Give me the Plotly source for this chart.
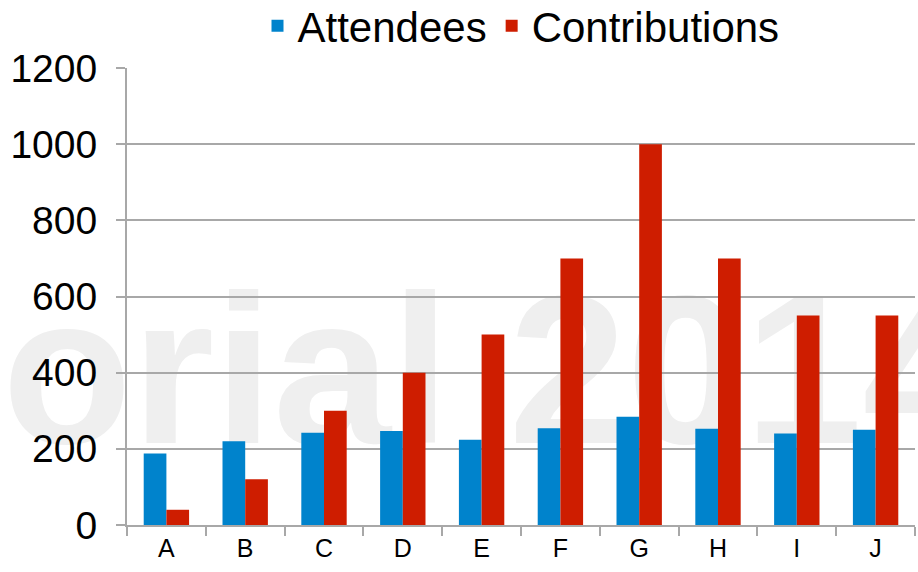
import plotly.graph_objects as go

categories = ["A", "B", "C", "D", "E", "F", "G", "H", "I", "J"]
attendees = [188, 220, 242, 247, 224, 254, 284, 253, 240, 250]
contributions = [40, 120, 300, 400, 500, 700, 1000, 700, 550, 550]
y_ticks = [0, 200, 400, 600, 800, 1000, 1200]

FONT = "Liberation Sans, Arial, sans-serif"
BLUE = "#0083CC"
RED = "#CE1D00"
GRID = "#A8A8A8"

fig = go.Figure()
fig.add_trace(go.Bar(name="Attendees", x=categories, y=attendees,
                     marker=dict(color=BLUE, line=dict(width=0))))
fig.add_trace(go.Bar(name="Contributions", x=categories, y=contributions,
                     marker=dict(color=RED, line=dict(width=0))))

fig.add_shape(type="rect", xref="paper", yref="paper",
              x0=-0.166, x1=1.3, y0=0.309, y1=0.459,
              line=dict(width=0), fillcolor="rgba(0,0,0,0)", layer="below",
              label=dict(text="orial 2014", textposition="middle left",
                         font=dict(family=FONT, size=212, color="#EFEFEF", weight="bold")))

fig.update_layout(
    width=918, height=572,
    margin=dict(l=127, r=3, t=68, b=47, autoexpand=False),
    paper_bgcolor="white", plot_bgcolor="rgba(0,0,0,0)",
    barmode="group", bargap=0.424, bargroupgap=0,
    font=dict(family=FONT, color="black"),
    showlegend=True,
    legend=dict(orientation="h", x=0.5, xanchor="center", y=1.092, yanchor="middle",
                font=dict(size=42, family=FONT), itemwidth=30, traceorder="normal",
                bgcolor="rgba(0,0,0,0)"),
    xaxis=dict(type="category", showgrid=False, showline=True, linecolor=GRID, linewidth=2,
               ticks="outside", tickson="boundaries", ticklen=9, tickcolor=GRID, tickwidth=2,
               tickfont=dict(size=25, color="black"), range=[-0.5, 9.5]),
    yaxis=dict(range=[0, 1200], tickvals=y_ticks, showgrid=True, gridcolor=GRID, gridwidth=2,
               showline=True, linecolor=GRID, linewidth=2, zeroline=False,
               ticks="outside", ticklen=9, tickcolor=GRID, tickwidth=2,
               tickfont=dict(size=39, color="black"), ticklabelstandoff=11),
)

fig.write_html("out.html", config={"displayModeBar": False},
               post_script="document.body.style.margin='0';")
